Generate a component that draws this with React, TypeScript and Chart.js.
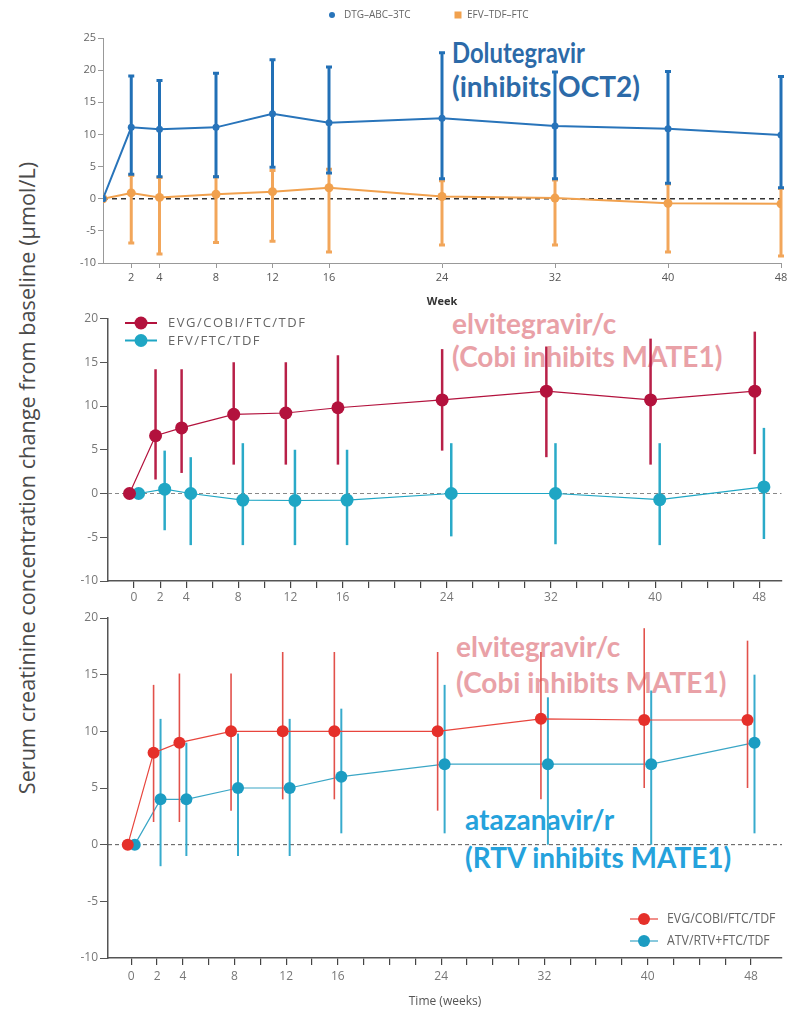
import React, { useEffect, useRef } from 'react';
import { Chart, registerables } from 'chart.js';

Chart.register(...registerables);
Chart.defaults.font.family = "'Open Sans', 'DejaVu Sans', sans-serif";

// ---------- Panel A: DTG-ABC-3TC vs EFV-TDF-FTC ----------
const weeksA = [0, 2, 4, 8, 12, 16, 24, 32, 40, 48];
const tickWeeksA = [2, 4, 8, 12, 16, 24, 32, 40, 48];
const dtgLabel = 'DTG–ABC–3TC';
const dtgMean = [0, 11.1, 10.8, 11.1, 13.2, 11.8, 12.5, 11.3, 10.9, 9.9];
const dtgHigh = [null, 19.1, 18.4, 19.5, 21.6, 20.5, 22.7, 19.7, 19.8, 19.0];
const dtgLow = [null, 3.8, 3.4, 3.4, 4.9, 4.0, 3.1, 3.1, 2.4, 1.7];
const efvALabel = 'EFV–TDF–FTC';
const efvAMean = [0, 0.9, 0.2, 0.7, 1.1, 1.7, 0.35, 0.1, -0.7, -0.8];
const efvAHigh = [null, 3.6, 3.3, 3.4, 4.4, 4.6, 2.8, 2.9, 2.3, 1.6];
const efvALow = [null, -6.9, -8.6, -6.8, -6.6, -8.3, -7.2, -7.2, -8.3, -8.9];

// ---------- Panel B: EVG/COBI/FTC/TDF vs EFV/FTC/TDF ----------
const weeksB = [0, 2, 4, 8, 12, 16, 24, 32, 40, 48];
const evgBLabel = 'EVG/COBI/FTC/TDF';
const evgBMean = [0, 6.6, 7.5, 9.05, 9.2, 9.8, 10.7, 11.7, 10.7, 11.7];
const evgBHigh = [null, 14.2, 14.2, 15.0, 15.0, 15.8, 16.5, 16.8, 17.7, 18.5];
const evgBLow = [null, 1.6, 2.35, 3.3, 3.3, 3.3, 4.9, 4.15, 3.3, 4.5];
const efvBLabel = 'EFV/FTC/TDF';
const efvBMean = [0, 0.5, 0, -0.75, -0.8, -0.75, 0, 0, -0.7, 0.75];
const efvBHigh = [null, 4.9, 4.15, 5.75, 5.0, 5.0, 5.75, 5.75, 5.75, 7.5];
const efvBLow = [null, -4.2, -5.9, -5.9, -5.9, -5.9, -4.9, -5.8, -5.9, -5.2];

// ---------- Panel C: EVG/COBI/FTC/TDF vs ATV/RTV+FTC/TDF ----------
const weeksC = [0, 2, 4, 8, 12, 16, 24, 32, 40, 48];
const evgCLabel = 'EVG/COBI/FTC/TDF';
const evgCMean = [0, 8.1, 9.0, 10.0, 10.0, 10.0, 10.0, 11.1, 11.0, 11.0];
const evgCHigh = [null, 14.1, 15.1, 15.1, 17.0, 17.0, 17.0, 17.0, 19.1, 18.0];
const evgCLow = [null, 2.0, 2.0, 3.0, 4.0, 4.0, 3.0, 4.0, 5.0, 5.0];
const atvCLabel = 'ATV/RTV+FTC/TDF';
const atvCMean = [0, 4.0, 4.0, 5.0, 5.0, 6.0, 7.1, 7.1, 7.1, 9.0];
const atvCHigh = [null, 11.1, 9.0, 9.8, 11.1, 12.0, 14.1, 13.0, 13.6, 15.0];
const atvCLow = [null, -1.9, -1.0, -1.0, -1.0, 1.0, 1.0, 0, 0, 1.0];

// shared axis tick labels
const labelWeeksBC = [0, 2, 4, 8, 12, 16, 24, 32, 40, 48];
const minorWeeksBC = Array.from({ length: 25 }, (_, i) => i * 2);
const yAxisTitle = 'Serum creatinine concentration change from baseline (µmol/L)';

const annotations = [
  { lines: ['Dolutegravir', '(inhibits OCT2)'], sx: [0.85, 1], left: 452, top: 35, lh: 34, color: '#2c6aa8' },
  { lines: ['elvitegravir/c', '(Cobi inhibits MATE1)'], sx: [1, 1], left: 452, top: 307, lh: 33, color: '#e9a1a7' },
  { lines: ['elvitegravir/c', '(Cobi inhibits MATE1)'], sx: [1, 1], left: 456, top: 628, lh: 36, color: '#e9a1a7' },
  { lines: ['atazanavir/r', '(RTV inhibits MATE1)'], sx: [1, 1], left: 465, top: 800, lh: 38, color: '#25a2dc' },
];

const pts = (weeks: number[], vals: number[], dodge: number) =>
  weeks.map((w, i) => ({ x: w + dodge, y: vals[i] }));

const errorBarPlugin = {
  id: 'errorBars',
  beforeDatasetDraw(chart: any, args: any) {
    const ds = chart.data.datasets[args.index];
    if (!ds.errLow) return;
    const ctx = chart.ctx;
    const ys = chart.scales.y;
    ctx.save();
    ctx.strokeStyle = ds.errColor || ds.borderColor;
    ctx.lineWidth = ds.errWidth || 2;
    args.meta.data.forEach((pt: any, i: number) => {
      const lo = ds.errLow[i];
      const hi = ds.errHigh[i];
      if (lo == null || hi == null) return;
      const x = pt.x;
      const yl = ys.getPixelForValue(lo);
      const yh = ys.getPixelForValue(hi);
      ctx.beginPath();
      ctx.moveTo(x, yl);
      ctx.lineTo(x, yh);
      ctx.stroke();
      if (ds.errCap) {
        ctx.beginPath();
        ctx.moveTo(x - ds.errCap, yl);
        ctx.lineTo(x + ds.errCap, yl);
        ctx.moveTo(x - ds.errCap, yh);
        ctx.lineTo(x + ds.errCap, yh);
        ctx.stroke();
      }
    });
    ctx.restore();
  },
};

const zeroLinePlugin = {
  id: 'zeroLine',
  beforeDatasetsDraw(chart: any, _a: any, opts: any) {
    const { ctx, chartArea, scales } = chart;
    const y = scales.y.getPixelForValue(0);
    ctx.save();
    ctx.strokeStyle = opts.color;
    ctx.lineWidth = opts.width;
    ctx.setLineDash([opts.dashOn, opts.dashOff]);
    ctx.beginPath();
    ctx.moveTo(chartArea.left, y);
    ctx.lineTo(chartArea.right, y);
    ctx.stroke();
    ctx.restore();
  },
};

const legendPlugin = {
  id: 'panelLegend',
  afterDraw(chart: any, _a: any, opts: any) {
    const ctx = chart.ctx;
    const n = opts.count || 0;
    ctx.save();
    for (let k = 0; k < n; k++) {
      const it = opts['item' + k];
      const ds = chart.data.datasets[k];
      const color = ds.borderColor;
      const mcol = ds.pointBackgroundColor || color;
      if (it.symbol === 'line') {
        ctx.strokeStyle = color;
        ctx.lineWidth = it.lw;
        ctx.beginPath();
        ctx.moveTo(it.x - it.half, it.y);
        ctx.lineTo(it.x + it.half, it.y);
        ctx.stroke();
        ctx.fillStyle = mcol;
        ctx.beginPath();
        ctx.arc(it.x, it.y, it.r, 0, Math.PI * 2);
        ctx.fill();
      } else if (it.symbol === 'dot') {
        ctx.fillStyle = mcol;
        ctx.beginPath();
        ctx.arc(it.x, it.y, it.r, 0, Math.PI * 2);
        ctx.fill();
      } else {
        ctx.fillStyle = mcol;
        ctx.fillRect(it.x - it.r, it.y - it.r, it.r * 2, it.r * 2);
      }
      ctx.save();
      ctx.fillStyle = opts.color;
      ctx.font = opts.font;
      if (opts.spacing) (ctx as any).letterSpacing = opts.spacing;
      ctx.textBaseline = 'middle';
      ctx.textAlign = 'left';
      ctx.translate(it.tx, it.y + 0.5);
      ctx.scale(opts.sx || 1, 1);
      ctx.fillText(ds.label, 0, 0);
      ctx.restore();
    }
    ctx.restore();
  },
};

const fixY = (w: number) => (s: any) => {
  s.width = w;
  s.paddingTop = 0;
  s.paddingBottom = 0;
  s.paddingLeft = 0;
  s.paddingRight = 0;
};
const fixX = (h: number) => (s: any) => {
  s.height = h;
  s.paddingLeft = 0;
  s.paddingRight = 0;
  s.paddingTop = 0;
  s.paddingBottom = 0;
};

function makeConfigA(): any {
  return {
    type: 'line',
    data: {
      datasets: [
        {
          label: dtgLabel,
          data: pts(weeksA, dtgMean, 0),
          borderColor: '#2874ba',
          pointBackgroundColor: '#2874ba',
          pointBorderWidth: 0,
          pointRadius: 3.5,
          borderWidth: 2,
          errLow: dtgLow,
          errHigh: dtgHigh,
          errWidth: 3,
          errCap: 3,
          errColor: '#2270b6',
        },
        {
          label: efvALabel,
          data: pts(weeksA, efvAMean, 0),
          borderColor: '#f1a14e',
          pointBackgroundColor: '#f1a14e',
          pointBorderWidth: 0,
          pointRadius: 4.5,
          borderWidth: 2,
          errLow: efvALow,
          errHigh: efvAHigh,
          errWidth: 3,
          errCap: 3,
          errColor: '#f2a65a',
        },
      ],
    },
    options: {
      responsive: false,
      animation: false,
      layout: { padding: { left: 63, right: 7, top: 38, bottom: 0 } },
      plugins: {
        legend: { display: false },
        tooltip: { enabled: false },
        zeroLine: { color: '#333', width: 1.5, dashOn: 5, dashOff: 4 },
        panelLegend: {
          count: 2,
          font: "10px 'Open Sans'",
          color: '#666',
          item0: { symbol: 'dot', x: 332, y: 15, r: 3, tx: 344 },
          item1: { symbol: 'square', x: 458, y: 15, r: 3.5, tx: 467 },
        },
      },
      scales: {
        x: {
          type: 'linear',
          min: 0,
          max: 48,
          afterBuildTicks: (axis: any) => {
            axis.ticks = tickWeeksA.map((v) => ({ value: v }));
          },
          afterFit: fixX(49),
          ticks: { font: { size: 11 }, color: '#555', padding: 3, maxRotation: 0, autoSkip: false },
          grid: { drawOnChartArea: false, tickLength: 5, color: '#999' },
          border: { color: '#999', width: 1 },
          title: { display: true, text: 'Week', font: { size: 11, weight: 'bold' }, color: '#333', padding: { top: 2, bottom: 4 } },
        },
        y: {
          min: -10,
          max: 25,
          afterFit: fixY(40),
          ticks: { stepSize: 5, font: { size: 11 }, color: '#666', padding: 2 },
          grid: { drawOnChartArea: false, tickLength: 5, color: '#999' },
          border: { color: '#999', width: 1 },
        },
      },
    },
    plugins: [errorBarPlugin, zeroLinePlugin, legendPlugin],
  };
}

function makeConfigB(): any {
  const dodge = 0.35;
  return {
    type: 'line',
    data: {
      datasets: [
        {
          label: evgBLabel,
          data: pts(weeksB, evgBMean, -dodge),
          borderColor: '#b3123d',
          pointBackgroundColor: '#b3123d',
          pointBorderWidth: 0,
          pointRadius: 6.5,
          borderWidth: 1.2,
          errLow: evgBLow,
          errHigh: evgBHigh,
          errWidth: 2.5,
          errColor: '#b82048',
        },
        {
          label: efvBLabel,
          data: pts(weeksB, efvBMean, dodge),
          borderColor: '#1fa6c4',
          pointBackgroundColor: '#1fa6c4',
          pointBorderWidth: 0,
          pointRadius: 6.5,
          borderWidth: 1.2,
          errLow: efvBLow,
          errHigh: efvBHigh,
          errWidth: 2.5,
          errColor: '#2aaac8',
        },
      ],
    },
    options: {
      responsive: false,
      animation: false,
      layout: { padding: { left: 68, right: 0, top: 5, bottom: 0 } },
      plugins: {
        legend: { display: false },
        tooltip: { enabled: false },
        zeroLine: { color: '#888', width: 1, dashOn: 4, dashOff: 3 },
        panelLegend: {
          count: 2,
          font: "13px 'Open Sans'",
          spacing: '1.5px',
          color: '#666',
          item0: { symbol: 'line', x: 141, y: 11, r: 6.5, half: 16, lw: 2, tx: 168 },
          item1: { symbol: 'line', x: 141, y: 28.5, r: 6.5, half: 16, lw: 2, tx: 168 },
        },
      },
      scales: {
        x: {
          type: 'linear',
          min: -2,
          max: 49.7,
          afterBuildTicks: (axis: any) => {
            axis.ticks = minorWeeksBC.map((v) => ({ value: v }));
          },
          afterFit: fixX(31),
          ticks: {
            font: { size: 12 },
            color: '#777',
            padding: 2,
            maxRotation: 0,
            autoSkip: false,
            callback: (v: any) => (labelWeeksBC.includes(Number(v)) ? String(v) : ''),
          },
          grid: { drawOnChartArea: false, tickLength: 7, color: '#444', lineWidth: 1.2 },
          border: { color: '#555', width: 1.5 },
        },
        y: {
          min: -10,
          max: 20,
          afterFit: fixY(40),
          ticks: { stepSize: 5, font: { size: 12 }, color: '#777', padding: 2 },
          grid: { drawOnChartArea: false, tickLength: 8, color: '#555' },
          border: { color: '#555', width: 1.5 },
        },
      },
    },
    plugins: [errorBarPlugin, zeroLinePlugin, legendPlugin],
  };
}

function makeConfigC(): any {
  const dodge = 0.27;
  return {
    type: 'line',
    data: {
      datasets: [
        {
          label: evgCLabel,
          data: pts(weeksC, evgCMean, -dodge),
          borderColor: '#e8453d',
          pointBackgroundColor: '#e5302a',
          pointBorderWidth: 0,
          pointRadius: 6,
          borderWidth: 1.2,
          errLow: evgCLow,
          errHigh: evgCHigh,
          errWidth: 1.6,
          errColor: '#e2514b',
        },
        {
          label: atvCLabel,
          data: pts(weeksC, atvCMean, dodge),
          borderColor: '#3aa6c6',
          pointBackgroundColor: '#1c9cc2',
          pointBorderWidth: 0,
          pointRadius: 6,
          borderWidth: 1.2,
          errLow: atvCLow,
          errHigh: atvCHigh,
          errWidth: 2,
          errColor: '#37abcd',
        },
      ],
    },
    options: {
      responsive: false,
      animation: false,
      layout: { padding: { left: 68, right: 0, top: 4, bottom: 0 } },
      plugins: {
        legend: { display: false },
        tooltip: { enabled: false },
        zeroLine: { color: '#555', width: 1, dashOn: 4, dashOff: 3 },
        panelLegend: {
          count: 2,
          font: "14px 'Open Sans'",
          sx: 0.88,
          color: '#666',
          item0: { symbol: 'line', x: 644, y: 307, r: 6, half: 14, lw: 1.2, tx: 667 },
          item1: { symbol: 'line', x: 644, y: 329, r: 6, half: 14, lw: 1.2, tx: 667 },
        },
      },
      scales: {
        x: {
          type: 'linear',
          min: -1.8,
          max: 50.4,
          afterBuildTicks: (axis: any) => {
            axis.ticks = minorWeeksBC.map((v) => ({ value: v }));
          },
          afterFit: fixX(52),
          ticks: {
            font: { size: 12 },
            color: '#777',
            padding: 4,
            maxRotation: 0,
            autoSkip: false,
            callback: (v: any) => (labelWeeksBC.includes(Number(v)) ? String(v) : ''),
          },
          grid: { drawOnChartArea: false, tickLength: 7, color: '#444', lineWidth: 1.2 },
          border: { color: '#555', width: 1.5 },
          title: { display: true, text: 'Time (weeks)', font: { size: 12 }, color: '#555', padding: { top: 2, bottom: 1 } },
        },
        y: {
          min: -10,
          max: 20,
          afterFit: fixY(40),
          ticks: { stepSize: 5, font: { size: 12 }, color: '#777', padding: 2 },
          grid: { drawOnChartArea: false, tickLength: 8, color: '#555' },
          border: { color: '#555', width: 1.5 },
        },
      },
    },
    plugins: [errorBarPlugin, zeroLinePlugin, legendPlugin],
  };
}

function Panel({ top, height, make }: { top: number; height: number; make: () => any }) {
  const ref = useRef<HTMLCanvasElement | null>(null);
  useEffect(() => {
    if (!ref.current) return;
    const chart = new Chart(ref.current, make());
    return () => chart.destroy();
  }, [make]);
  return (
    <canvas
      ref={ref}
      width={788}
      height={height}
      style={{ position: 'absolute', left: 0, top, width: 788, height, display: 'block' }}
    />
  );
}

export default function App() {
  return (
    <div style={{ position: 'absolute', left: 0, top: 0, width: 788, height: 1010, background: '#fff', overflow: 'hidden' }}>
      {annotations.map((a, i) => (
        <div
          key={i}
          style={{
            position: 'absolute',
            left: a.left,
            top: a.top,
            color: a.color,
            font: `700 28px Lato, 'Open Sans', sans-serif`,
            lineHeight: `${a.lh}px`,
            whiteSpace: 'nowrap',
          }}
        >
          {a.lines.map((l, j) => (
            <div key={j} style={{ transform: `scaleX(${a.sx[j]})`, transformOrigin: 'left center' }}>
              {l}
            </div>
          ))}
        </div>
      ))}
      <div
        style={{
          position: 'absolute',
          left: 26,
          top: 478,
          transform: 'translate(-50%, -50%) rotate(-90deg)',
          whiteSpace: 'nowrap',
          font: "21.7px 'Open Sans', sans-serif",
          color: '#4a4a4a',
        }}
      >
        {yAxisTitle}
      </div>
      <Panel top={0} height={312} make={makeConfigA} />
      <Panel top={312} height={300} make={makeConfigB} />
      <Panel top={612} height={398} make={makeConfigC} />
    </div>
  );
}
